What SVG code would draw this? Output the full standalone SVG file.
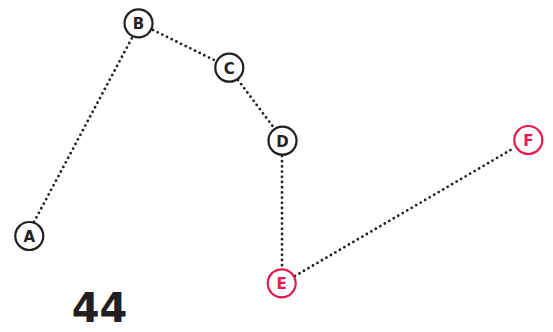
<svg xmlns="http://www.w3.org/2000/svg" width="553" height="332" viewBox="0 0 553 332">
<style>
.n circle{fill:#fff;stroke:#231f20;stroke-width:2.2}
.n text{font-family:"DejaVu Sans",sans-serif;font-weight:bold;font-size:15px;fill:#231f20;text-anchor:middle;dominant-baseline:central}
.p circle{stroke:#e8194f}
.p text{fill:#e8194f}
.e line{stroke:#231f20;stroke-width:2.8;stroke-linecap:round;stroke-dasharray:0 5.2}
</style>
<rect width="553" height="332" fill="#fff"/>
<g class="e" id="connectors">
<line x1="34" y1="222" x2="133" y2="36"/>
<line x1="153" y1="30" x2="216" y2="61"/>
<line x1="238" y1="80" x2="274" y2="128"/>
<line x1="282" y1="156" x2="282" y2="268"/>
<line x1="295" y1="276" x2="514" y2="148"/>
</g>
<g class="n" id="A"><circle cx="29.3" cy="236" r="14"/><text x="29.3" y="237">A</text></g>
<g class="n" id="B"><circle cx="138.5" cy="23.3" r="14"/><text x="138.5" y="24.3">B</text></g>
<g class="n" id="C"><circle cx="229.3" cy="67.7" r="14"/><text x="229.3" y="68.7">C</text></g>
<g class="n" id="D"><circle cx="282.5" cy="140.7" r="14"/><text x="282.5" y="141.7">D</text></g>
<g class="n p" id="E"><circle cx="281.7" cy="283.3" r="14"/><text x="281.7" y="284.3">E</text></g>
<g class="n p" id="F"><circle cx="528.3" cy="140" r="14"/><text x="528.3" y="141">F</text></g>
<text x="99.5" y="322" font-family="'DejaVu Sans',sans-serif" font-weight="bold" font-size="40" fill="#231f20" text-anchor="middle">44</text>
</svg>
